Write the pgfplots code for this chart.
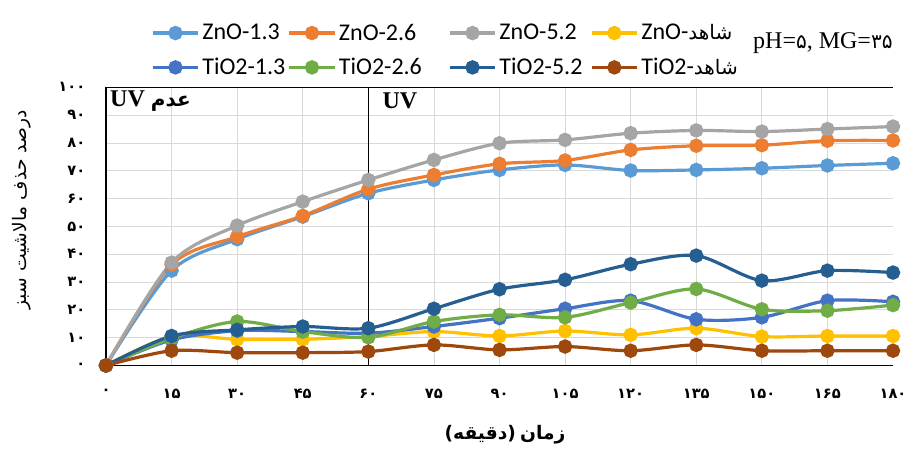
\documentclass[border=0pt]{standalone}
\usepackage{fontspec}
\usepackage{pgfplots}
\usepackage{pgfplotstable}
\pgfplotsset{compat=1.18}
\TeXXeTstate=1
\setmainfont{Carlito}
\newfontfamily\arabicfont[Script=Arabic]{DejaVu Sans}
\newfontfamily\digitfont{DejaVu Sans}
\newfontfamily\timesfont{Liberation Serif}

\definecolor{znoa}{HTML}{5B9BD5}
\definecolor{znob}{HTML}{ED7D31}
\definecolor{znoc}{HTML}{A5A5A5}
\definecolor{znos}{HTML}{FFC000}
\definecolor{tioa}{HTML}{4472C4}
\definecolor{tiob}{HTML}{70AD47}
\definecolor{tioc}{HTML}{255E91}
\definecolor{tios}{HTML}{9E480E}

% removal (%) vs time (min)
\pgfplotstableread{
t   znoa znob znoc znos tioa tiob tioc tios
0   0    0    0    0    0    0    0    0
15  34.1 36.2 37.0 10.4 9.2  9.8  10.6 5.3
30  45.4 46.3 50.3 9.4  12.5 15.8 12.8 4.6
45  53.5 53.8 58.9 9.4  12.2 12.2 14.0 4.6
60  61.9 63.4 66.7 10.4 11.6 10.1 13.4 5.0
75  66.7 68.5 73.9 12.2 14.0 15.8 20.4 7.4
90  70.3 72.5 79.9 10.6 17.0 18.2 27.4 5.6
105 72.1 73.7 81.1 12.4 20.4 17.3 30.8 6.8
120 70.1 77.5 83.5 11.0 23.3 22.6 36.4 5.3
135 70.3 79.0 84.5 13.4 16.6 27.5 39.5 7.4
150 70.9 79.2 84.1 10.4 17.3 20.2 30.5 5.3
165 71.9 80.8 85.0 10.6 23.3 19.7 34.1 5.3
180 72.7 80.9 85.9 10.6 22.9 21.7 33.4 5.3
}\removal

\begin{document}
\begin{tikzpicture}
\path[use as bounding box] (0,0) rectangle (693pt,337.5pt);
\begin{axis}[
  at={(79.5pt,63.4pt)}, anchor=south west,
  scale only axis, width=590.25pt, height=208.6pt,
  xmin=0, xmax=180, ymin=0, ymax=100,
  axis x line=box, axis y line=left,
  x axis line style={-, line width=0.8pt},
  y axis line style={-, line width=0.8pt},
  clip=false,
  major tick length=0pt, minor tick length=0pt,
  xtick={0,15,...,180},
  xticklabels={۰,۱۵,۳۰,۴۵,۶۰,۷۵,۹۰,۱۰۵,۱۲۰,۱۳۵,۱۵۰,۱۶۵,۱۸۰},
  ytick={0,10,...,100},
  yticklabels={۰,۱۰,۲۰,۳۰,۴۰,۵۰,۶۰,۷۰,۸۰,۹۰,۱۰۰},
  minor xtick={15,30,...,165},
  ymajorgrids, xminorgrids,
  major grid style={draw=black!15, line width=0.6pt},
  minor grid style={draw=black!15, line width=0.6pt},
  xticklabel pos=lower,
  xticklabel style={font=\digitfont\bfseries\fontsize{11}{13}\selectfont, anchor=north, yshift=-14pt},
  yticklabel style={font=\digitfont\bfseries\fontsize{11}{13}\selectfont, anchor=east, xshift=-12pt},
  every axis plot/.append style={line width=2.4pt, mark=*, mark size=4.2pt, smooth},
  legend columns=4,
  legend cell align=left,
  legend image code/.code={\draw[mark repeat=2,mark phase=2,#1] plot coordinates {(0pt,0pt) (17pt,0pt) (34pt,0pt)};},
  legend style={at={(axis description cs:0.052,1.248)}, anchor=north west,
    draw=none, fill=none, font=\fontsize{18}{20}\selectfont, row sep=8pt,
    /tikz/every even column/.append style={column sep=0pt}},
]
\addplot[color=znoa, mark options={fill=znoa}] table[x=t, y=znoa] {\removal};
\addlegendentry{\makebox[62pt][l]{ZnO-1.3}}
\addplot[color=znob, mark options={fill=znob}] table[x=t, y=znob] {\removal};
\addlegendentry{\makebox[80pt][l]{ZnO-2.6}}
\addplot[color=znoc, mark options={fill=znoc}] table[x=t, y=znoc] {\removal};
\addlegendentry{\makebox[66pt][l]{ZnO-5.2}}
\addplot[color=znos, mark options={fill=znos}] table[x=t, y=znos] {\removal};
\addlegendentry{ZnO-{\arabicfont\fontsize{15}{18}\selectfont شاهد}}
\addplot[color=tioa, mark options={fill=tioa}] table[x=t, y=tioa] {\removal};
\addlegendentry{\makebox[62pt][l]{TiO2-1.3}}
\addplot[color=tiob, mark options={fill=tiob}] table[x=t, y=tiob] {\removal};
\addlegendentry{\makebox[80pt][l]{TiO2-2.6}}
\addplot[color=tioc, mark options={fill=tioc}] table[x=t, y=tioc] {\removal};
\addlegendentry{\makebox[66pt][l]{TiO2-5.2}}
\addplot[color=tios, mark options={fill=tios}] table[x=t, y=tios] {\removal};
\addlegendentry{TiO2-{\arabicfont\fontsize{15}{18}\selectfont شاهد}}

\draw[black, line width=0.8pt] (axis cs:60,0) -- (axis cs:60,100);
\node[anchor=west, inner sep=0pt, font=\timesfont\bfseries\fontsize{18}{20}\selectfont]
  at (axis description cs:0.005,0.952) {UV {\arabicfont\bfseries\fontsize{15}{18}\selectfont عدم}};
\node[anchor=west, inner sep=0pt, font=\timesfont\bfseries\fontsize{18}{20}\selectfont]
  at (axis description cs:0.351,0.952) {UV};
\node[anchor=west, inner sep=0pt, font=\timesfont\fontsize{18}{20}\selectfont]
  at (axis description cs:0.822,1.159) {pH={\digitfont\fontsize{15}{18}\selectfont ۵}, MG={\digitfont\fontsize{15}{18}\selectfont ۳۵}};
\node[rotate=90, inner sep=0pt, font=\arabicfont\fontsize{14}{16}\selectfont]
  at (axis description cs:-0.107,0.559) {\beginR درصد حذف مالاشیت سبز\endR};
\node[inner sep=0pt, font=\fontsize{14}{16}\selectfont]
  at (axis description cs:0.507,-0.25) {{\digitfont\bfseries(}{\arabicfont\bfseries دقیقه}{\digitfont\bfseries)}\ {\arabicfont\bfseries زمان}};
\end{axis}
\end{tikzpicture}
\end{document}
